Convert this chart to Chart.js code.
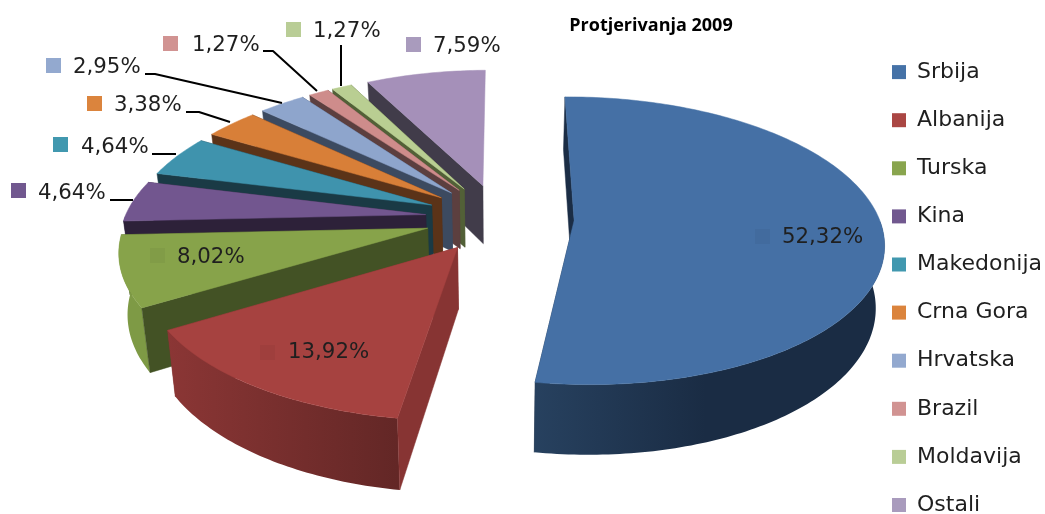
<!DOCTYPE html>
<html><head><meta charset="utf-8">
<script src="https://cdn.jsdelivr.net/npm/chart.js@4"></script>
<style>html,body{margin:0;padding:0;background:#fff}canvas{display:block}</style>
</head><body><div style="width:1045px;height:514px"><canvas id="c" width="1045" height="514"></canvas></div>
<script>
const categories = ['Srbija','Albanija','Turska','Kina','Makedonija','Crna Gora','Hrvatska','Brazil','Moldavija','Ostali'];
const shares = [52.32,13.92,8.02,4.64,4.64,3.38,2.95,1.27,1.27,7.59];
const keyColors = ['#4572a7','#aa4643','#89a54e','#71588f','#4198af','#db843d','#93a9cf','#d19392','#b9cd96','#a99bbd'];
const topColors = ['#4570a5','#a64240','#87a34a','#72568f','#3f93ad','#d87f38','#8ea5cc','#ce8c8b','#b9ce92','#a590b9'];
const radialWall = ['#1b2d45','#873433','#435225','#2d2139','#1a3a45','#5b3318','#3c4a60','#5c3f3f','#526037','#413c4a'];
const wallFrom = ['#27415f','#8b3635','#7e9a45','#5a4472','#317488','#a86230','#6f82a0','#a06e6e','#8fa070','#7f7290'];
const wallTo = ['#1a2c44','#632726','#7e9a45','#5a4472','#317488','#a86230','#6f82a0','#a06e6e','#8fa070','#7f7290'];
const labelText = [[782,237],[288,352],[177,257],[38,193],[81,147],[114,105],[73,67],[192,45],[313,31],[433,46]];
const keyBox = [[755,229],[260,345],[150,248],[11,183],[53,137],[87,96],[46,58],[163,36],[286,22],[406,37]];
const keyFill = [.04,.04,.04,1,1,1,1,1,1,1];
const leaders = [null,null,null,[[110,200],[133,200]],[[152,154],[176,154]],[[186,112],[199,112],[230,122]],
  [[145,74],[155,74],[282,103]],[[263,51],[273,51],[317,91]],[[341,45],[341,86]],null];

const CX=500, CY=218, TILT=0.453, PERSP=0.000453, SIDE=0.00003, SCALE=0.988, DEPTH=60, SHRINK=0.977, FONT='"DejaVu Sans", sans-serif';

function project(arc, theta, r, low){
  const mid=(arc.startAngle+arc.endAngle)/2, off=arc.options.offset;
  const X=r*Math.cos(theta)+off*Math.cos(mid), Y=r*Math.sin(theta)+off*Math.sin(mid);
  const w=1-PERSP*Y-SIDE*X;
  let x=SCALE*X/w, y=TILT*Y/w;
  if(X>0) x*=0.985;
  x+=6.5e-5*Math.max(0,-X)*Math.max(0,-Y);
  if(low){x*=SHRINK; y+=DEPTH/w;}
  return [CX+x, CY+y];
}
function poly(ctx, pts, fill){
  ctx.beginPath(); pts.forEach((p,i)=>i?ctx.lineTo(p[0],p[1]):ctx.moveTo(p[0],p[1])); ctx.closePath();
  ctx.fillStyle=fill; ctx.fill();
  if(typeof fill==='string'){ctx.strokeStyle=fill; ctx.lineWidth=.5; ctx.stroke();}
}
const pie3d = {
  id:'pie3d',
  afterLayout(chart){
    const l=chart.legend; const pad=l.options.labels.padding;
    l.left=892-pad; l.right=1045; l.top=35; l.bottom=560;
    const t=chart.titleBlock; t.left=257; t.right=1045;
  },
  beforeDatasetDraw(chart,args){
    const ctx=chart.ctx, arcs=args.meta.data, R=i=>arcs[i].outerRadius;
    const order=[9,8,7,6,5,4,3,2,1,0];
    ctx.save();
    order.forEach(i=>{
      const a=arcs[i], N=Math.max(8,Math.ceil((a.endAngle-a.startAngle)*60));
      const ang=k=>a.startAngle+(a.endAngle-a.startAngle)*k/N;
      const rim=low=>{const o=[];for(let k=0;k<=N;k++)o.push(project(a,ang(k),R(i),low));return o;};
      const top=rim(false), bot=rim(true);
      const c0=project(a,0,0,false), c1=project(a,0,0,true);
      // trailing radial wall faces away: painted first, the rim wall covers it
      if(i!==order[0]) poly(ctx,[c0,top[N],bot[N],c1],radialWall[i]);
      // outer wall: only the part of the rim that faces the viewer
      const ft=[],fb=[];
      for(let k=0;k<=N;k++){ if(Math.sin(ang(k))>=0){ft.push(top[k]);fb.push(bot[k]);} }
      if(ft.length>1){
        const xs=ft.map(p=>p[0]), lo=Math.min(...xs), hi=Math.max(...xs);
        const g=ctx.createLinearGradient(lo,0,i===0?lo+170:hi,0);
        g.addColorStop(0,wallFrom[i]); g.addColorStop(1,wallTo[i]);
        poly(ctx,ft.concat(fb.slice().reverse()),g);
      }
      poly(ctx,[c0,top[0],bot[0],c1],radialWall[i]);
      poly(ctx,[c0].concat(top),topColors[i]);
    });
    ctx.strokeStyle='#000'; ctx.lineWidth=2; ctx.lineJoin='round';
    leaders.forEach(l=>{ if(!l)return; ctx.beginPath(); l.forEach((p,k)=>k?ctx.lineTo(p[0],p[1]):ctx.moveTo(p[0],p[1])); ctx.stroke(); });
    ctx.font='21.3px '+FONT; ctx.textBaseline='middle'; ctx.textAlign='left';
    shares.forEach((v,i)=>{
      ctx.globalAlpha=keyFill[i]; ctx.fillStyle=keyFill[i]<1?'#000':keyColors[i];
      ctx.fillRect(keyBox[i][0],keyBox[i][1],15,15); ctx.globalAlpha=1;
      ctx.fillStyle='#1f1f1f';
      ctx.fillText(v.toFixed(2).replace('.',',')+'%',labelText[i][0],labelText[i][1]);
    });
    ctx.restore();
    return false;
  }
};
new Chart(document.getElementById('c'),{
  type:'pie',
  plugins:[pie3d],
  data:{labels:categories,datasets:[{data:shares,backgroundColor:keyColors,borderWidth:0,offset:76}]},
  options:{
    responsive:false,animation:false,radius:309,rotation:0,events:[],
    layout:{padding:0},
    plugins:{
      tooltip:{enabled:false},
      title:{display:true,text:'Protjerivanja 2009',color:'#000',padding:{top:15,bottom:4},font:{family:'"Open Sans", sans-serif',size:18,weight:'bold'}},
      legend:{display:true,position:'right',align:'start',
        labels:{boxWidth:14,boxHeight:14,padding:26.1,color:'#1f1f1f',font:{family:FONT,size:22,lineHeight:1.2}}}
    }
  }
});
</script></body></html>
